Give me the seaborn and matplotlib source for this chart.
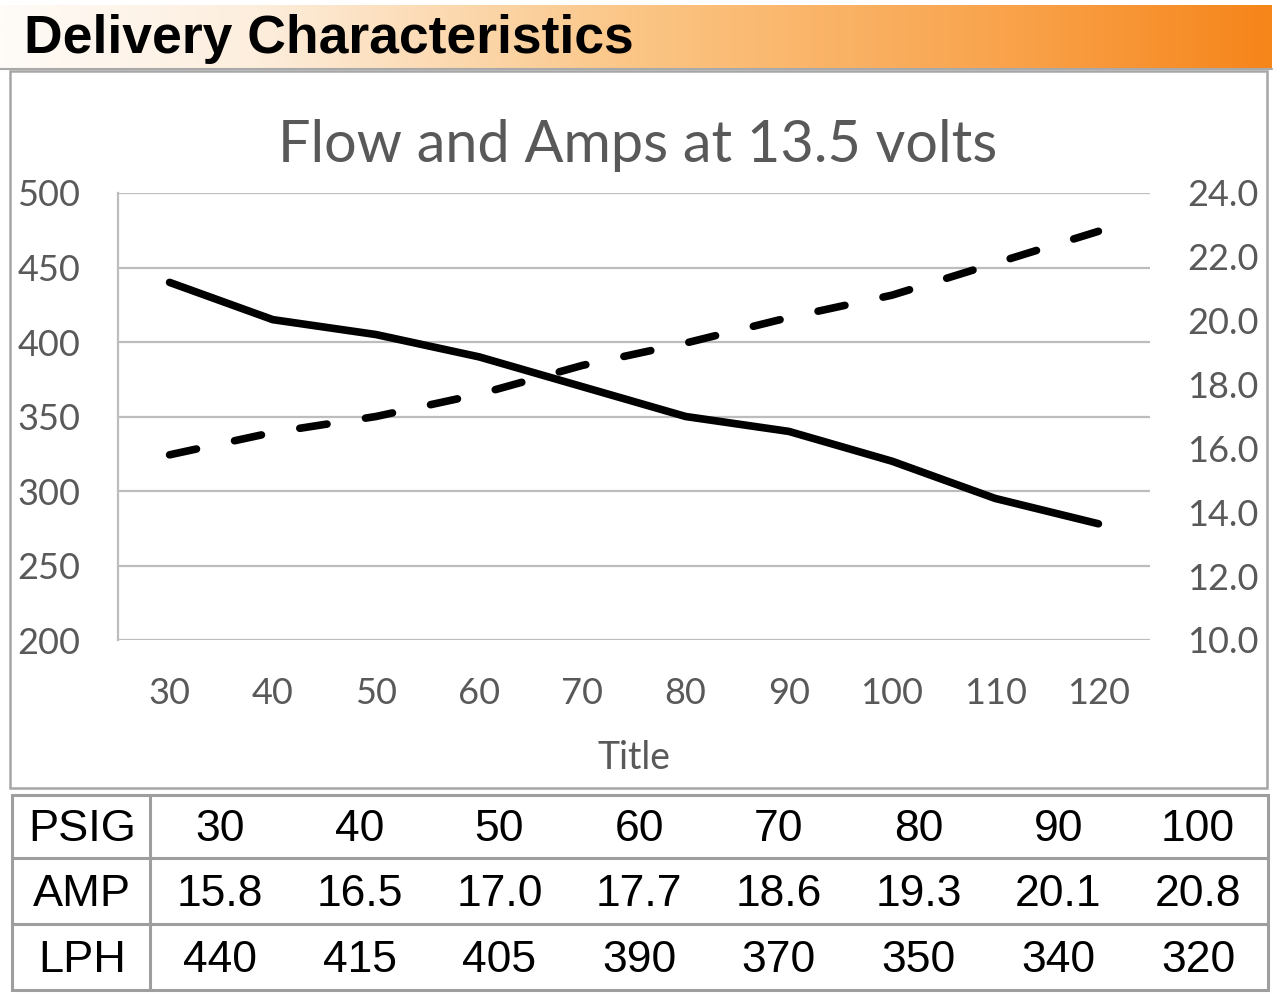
import matplotlib.pyplot as plt
import numpy as np
import seaborn as sns
from matplotlib.colors import LinearSegmentedColormap
from matplotlib.patches import Rectangle
from matplotlib.ticker import StrMethodFormatter


# Valores (pressão, corrente e vazão).
psig = [30, 40, 50, 60, 70, 80, 90, 100, 110, 120]
amp = [15.8, 16.5, 17.0, 17.7, 18.6, 19.3, 20.1, 20.8, 21.8, 22.8]
lph = [440, 415, 405, 390, 370, 350, 340, 320, 295, 278]

# A tabela de baixo mostra só as 8 primeiras pressões.
n_tabela = 8
linhas_tabela = ["PSIG", "AMP", "LPH"]

titulo = "Delivery Characteristics"
titulo_grafico = "Flow and Amps at 13.5 volts"
rotulo_x = "Title"

ticks_lph = list(range(200, 501, 50))
ticks_amp = list(np.arange(10, 24.1, 2))

CINZA_TXT = "#595959"
CINZA_GRADE = "#bdbdbd"
CINZA_BORDA = "#a6a6a6"

sns.set_theme(style="white")
plt.rcParams["font.family"] = ["Lato", "DejaVu Sans"]

W, H = 1280, 994
fig = plt.figure(figsize=(W / 100, H / 100), dpi=100)

# Eixo de fundo em pixels, para faixa do título, moldura e tabela.
bg = fig.add_axes([0, 0, 1, 1], zorder=0)
bg.axis("off")

faixa = LinearSegmentedColormap.from_list(
    "faixa",
    [(0, "#fffbf7"), (0.2, "#fdeedd"), (0.5, "#fbc585"), (0.8, "#f9a24a"), (1, "#f6851a")],
)
bg.imshow(np.linspace(0, 1, 512)[None, :], cmap=faixa, extent=(0, 1272, 68, 5), aspect="auto")
bg.set_xlim(0, W)
bg.set_ylim(H, 0)
bg.plot([0, 1272], [69, 69], color="#a9a9a9", lw=1.5)
bg.text(24, 39, titulo, fontsize=38.5, fontweight="bold", family="Liberation Sans",
        color="black", va="center", ha="left")

# Moldura do gráfico.
bg.add_patch(Rectangle((10, 71), 1257, 717, fill=False, ec=CINZA_BORDA, lw=1.8))
bg.text(638, 146, titulo_grafico, fontsize=41.5, color=CINZA_TXT, ha="center", va="center")

# Tabela PSIG / AMP / LPH.
x0, x1, xsep = 12, 1268, 150
y_linhas = [795, 858, 924, 990]
bg.add_patch(Rectangle((x0, y_linhas[0]), x1 - x0, y_linhas[-1] - y_linhas[0],
                       fill=False, ec="#9e9e9e", lw=2.2))
bg.plot([xsep, xsep], [y_linhas[0], y_linhas[-1]], color="#9e9e9e", lw=2.2)
for y in y_linhas[1:-1]:
    bg.plot([x0, x1], [y, y], color="#9e9e9e", lw=2.2)

valores = [
    [str(p) for p in psig[:n_tabela]],
    [f"{a:.1f}" for a in amp[:n_tabela]],
    [str(v) for v in lph[:n_tabela]],
]
larg_col = (x1 - xsep) / n_tabela
for i, (nome, linha) in enumerate(zip(linhas_tabela, valores)):
    yc = (y_linhas[i] + y_linhas[i + 1]) / 2 + 3
    bg.text((x0 + xsep) / 2 + 1, yc, nome, fontsize=32.5, family="Liberation Sans",
            ha="center", va="center", color="black")
    for j, txt in enumerate(linha):
        bg.text(xsep + larg_col * (j + 0.5), yc, txt, fontsize=32, family="Liberation Sans",
                ha="center", va="center", color="black")

# Gráfico principal: vazão (LPH) no eixo esquerdo.
ax = fig.add_axes([118 / W, 1 - 640 / H, (1150 - 118) / W, (640 - 193) / H], zorder=2)
ax.patch.set_alpha(0)
sns.lineplot(x=psig, y=lph, ax=ax, color="black", lw=5.5)
ax.lines[0].set_solid_capstyle("round")
ax.lines[0].set_solid_joinstyle("round")
ax.set_xlim(25, 125)
ax.set_ylim(200, 500)
ax.set_xticks(psig)
ax.set_yticks(ticks_lph)
ax.grid(axis="y", color=CINZA_GRADE, lw=1.6)
ax.grid(axis="x", visible=False)
for lado in ["top", "right", "bottom"]:
    ax.spines[lado].set_visible(False)
ax.spines["left"].set_color(CINZA_GRADE)
ax.spines["left"].set_linewidth(1.6)
ax.tick_params(axis="y", length=0, pad=27, labelsize=26, labelcolor=CINZA_TXT)
ax.tick_params(axis="x", length=0, pad=27, labelsize=26, labelcolor=CINZA_TXT)
ax.set_xlabel(rotulo_x, fontsize=27, color=CINZA_TXT, labelpad=21)

# Corrente (AMP) no eixo direito, linha tracejada.
ax2 = ax.twinx()
sns.lineplot(x=psig, y=amp, ax=ax2, color="black", lw=5.5)
tracejada = ax2.lines[0]
tracejada.set_dashes([3.6, 5.1])
tracejada.set_dash_capstyle("round")
ax2.set_ylim(10, 24)
ax2.set_yticks(ticks_amp)
ax2.yaxis.set_major_formatter(StrMethodFormatter("{x:.1f}"))
ax2.grid(False)
for lado in ax2.spines:
    ax2.spines[lado].set_visible(False)
ax2.tick_params(axis="y", length=0, pad=27, labelsize=26, labelcolor=CINZA_TXT)
ax2.set_xlim(25, 125)

fig.savefig("out.png", dpi=100)
